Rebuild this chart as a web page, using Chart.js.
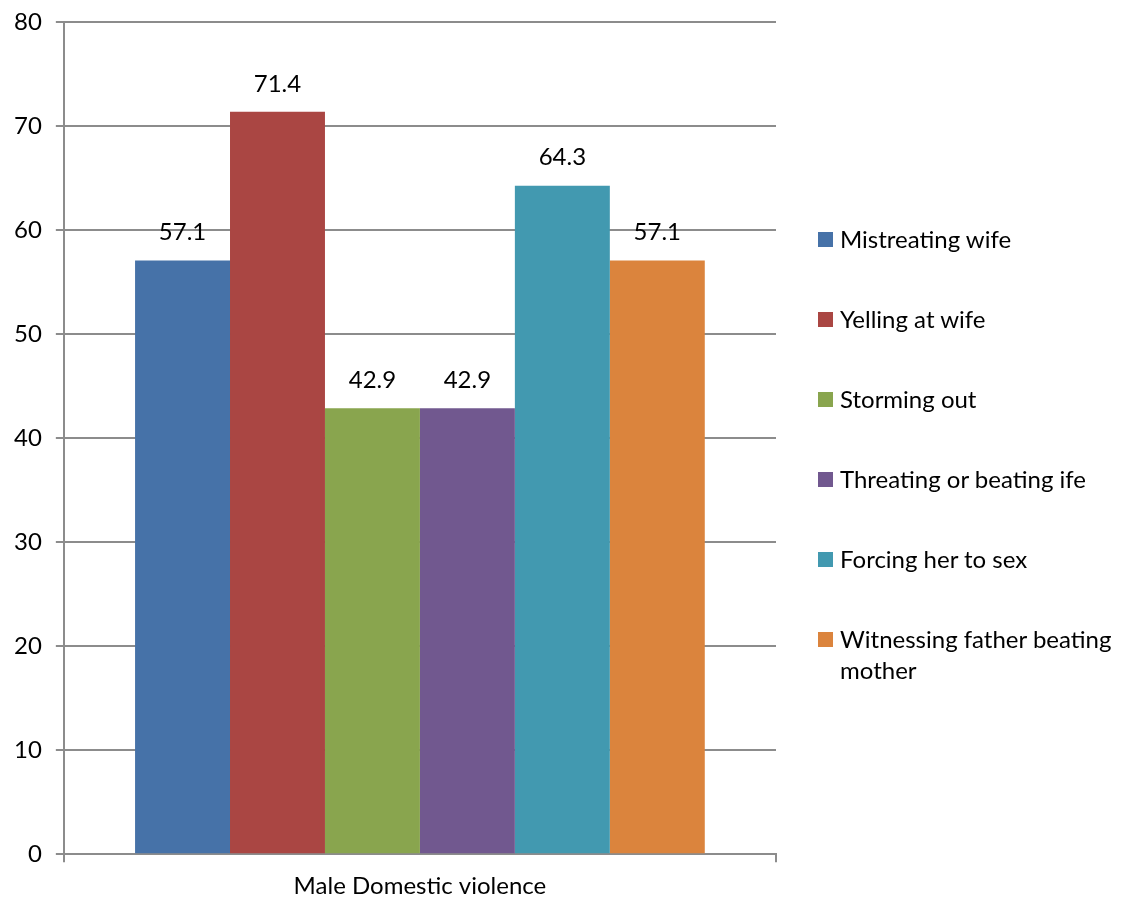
<!DOCTYPE html>
<html>
<head>
<meta charset="utf-8">
<script src="https://cdn.jsdelivr.net/npm/chart.js@4/dist/chart.umd.min.js"></script>
<style>
  html, body { margin: 0; padding: 0; background: #fff; overflow: hidden; }
  #wrap { position: relative; width: 1123px; height: 901px; overflow: hidden; }
  #myChart { position: absolute; left: 0; top: -6px; }
  #legend { position: absolute; left: 818px; top: 223px; font-family: Lato, sans-serif; font-size: 24px; color: #000; }
  .item { display: flex; align-items: flex-start; line-height: 31px; margin-bottom: 49px; }
  .box { width: 15px; height: 15px; margin-top: 9px; margin-right: 7px; flex: none; }
  .txt { width: 283px; }
</style>
</head>
<body>
<div id="wrap">
  <canvas id="myChart" width="1123" height="907"></canvas>
  <div id="legend"></div>
</div>
<script>
// datos de la grafica
var categories = ['Male Domestic violence'];
var seriesNames = ['Mistreating wife', 'Yelling at wife', 'Storming out', 'Threating or beating ife', 'Forcing her to sex', 'Witnessing father beating mother'];
var seriesValues = [57.1, 71.4, 42.9, 42.9, 64.3, 57.1];
var seriesColors = ['#4672A8', '#AA4643', '#89A54E', '#71588F', '#4299B0', '#DB843D'];
var yTicks = [0, 10, 20, 30, 40, 50, 60, 70, 80];

var datasets = [];
for (var i = 0; i < seriesNames.length; i++) {
  datasets.push({
    label: seriesNames[i],
    data: [seriesValues[i]],
    backgroundColor: seriesColors[i],
    borderColor: seriesColors[i],
    borderWidth: 0,
    categoryPercentage: 0.8,
    barPercentage: 1.0
  });
}

// etiquetas encima de las barras
var valueLabels = {
  id: 'valueLabels',
  afterDatasetsDraw: function(chart) {
    var ctx = chart.ctx;
    ctx.save();
    ctx.font = '24px Lato, sans-serif';
    ctx.fillStyle = '#000';
    ctx.textAlign = 'center';
    ctx.textBaseline = 'bottom';
    chart.data.datasets.forEach(function(ds, di) {
      var meta = chart.getDatasetMeta(di);
      meta.data.forEach(function(el, j) {
        ctx.fillText(ds.data[j].toFixed(1), el.x, el.y - 16);
      });
    });
    ctx.restore();
  }
};

var gridColor = '#8c8c8c';
var ctx = document.getElementById('myChart').getContext('2d');
var myChart = new Chart(ctx, {
  type: 'bar',
  data: { labels: categories, datasets: datasets },
  options: {
    responsive: false,
    animation: false,
    layout: { padding: { left: 0, right: 347, top: 0, bottom: -10 } },
    plugins: { legend: { display: false }, tooltip: { enabled: false } },
    scales: {
      x: {
        grid: { display: true, drawOnChartArea: false, offset: true, color: gridColor, lineWidth: 2, tickLength: 8 },
        border: { color: gridColor, width: 2 },
        ticks: { color: '#000', font: { family: 'Lato, sans-serif', size: 24 }, padding: 10 }
      },
      y: {
        min: 0,
        max: 80,
        afterBuildTicks: function(axis) { axis.ticks = yTicks.map(function(v) { return { value: v }; }); },
        grid: { color: gridColor, lineWidth: 2, tickLength: 8 },
        border: { color: gridColor, width: 2 },
        ticks: { color: '#000', font: { family: 'Lato, sans-serif', size: 24 }, padding: 14 }
      }
    }
  },
  plugins: [valueLabels]
});

// leyenda en HTML
var legend = document.getElementById('legend');
myChart.data.datasets.forEach(function(ds) {
  var item = document.createElement('div');
  item.className = 'item';
  var box = document.createElement('div');
  box.className = 'box';
  box.style.background = ds.backgroundColor;
  var txt = document.createElement('div');
  txt.className = 'txt';
  txt.textContent = ds.label;
  item.appendChild(box);
  item.appendChild(txt);
  legend.appendChild(item);
});
</script>
</body>
</html>
